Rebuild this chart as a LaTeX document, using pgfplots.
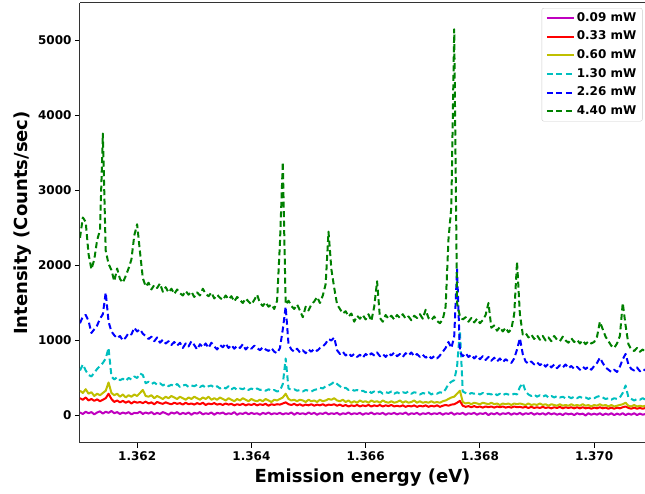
\documentclass[border=0pt]{standalone}
\usepackage{fontspec}
\setmainfont{DejaVu Sans}
\usepackage{pgfplots}
\usepackage{pgfplotstable}
\pgfplotsset{compat=1.18}

\definecolor{mplm}{rgb}{0.75,0,0.75}
\definecolor{mplr}{rgb}{1,0,0}
\definecolor{mplo}{rgb}{0.75,0.75,0}
\definecolor{mplc}{rgb}{0,0.75,0.75}
\definecolor{mplb}{rgb}{0,0,1}
\definecolor{mplg}{rgb}{0,0.5,0}

% columns: energy, then one intensity column per excitation power
\pgfplotstableread{
E P009 P033 P060 P130 P226 P440
1.36100 40 230 330 600 1230 2370
1.36105 20 210 300 680 1320 2640
1.36110 50 240 350 600 1340 2580
1.36115 30 200 290 540 1260 2150
1.36120 45 220 310 520 1100 1950
1.36125 15 195 260 570 1150 2080
1.36130 40 215 290 620 1200 2340
1.36135 55 190 270 660 1290 2470
1.36140 25 210 300 700 1350 3760
1.36145 50 230 330 760 1640 2200
1.36150 35 290 440 900 1250 2020
1.36155 60 220 300 520 1120 1940
1.36160 30 180 270 480 1070 1790
1.36165 45 200 290 510 1030 1960
1.36170 20 175 250 470 1060 1820
1.36175 40 195 280 490 1000 1770
1.36180 25 170 240 460 1040 1860
1.36185 45 190 270 500 1100 1960
1.36190 15 160 250 480 1080 2080
1.36195 35 185 280 520 1170 2400
1.36200 30 170 260 500 1120 2550
1.36205 50 180 300 560 1150 2180
1.36210 20 165 340 540 1090 1830
1.36215 40 185 260 430 1060 1720
1.36220 25 160 250 450 1020 1770
1.36225 45 175 270 420 1050 1680
1.36230 15 150 230 440 990 1740
1.36235 35 180 260 410 1040 1700
1.36240 20 165 240 430 970 1760
1.36245 45 155 220 400 1010 1650
1.36250 30 175 250 420 960 1710
1.36255 10 160 230 390 990 1640
1.36260 40 150 260 410 940 1690
1.36265 25 170 240 390 980 1620
1.36270 45 155 220 420 930 1680
1.36275 15 165 250 380 970 1630
1.36280 35 145 230 400 900 1600
1.36285 20 170 210 410 960 1660
1.36290 40 150 240 380 920 1610
1.36295 10 160 220 400 990 1650
1.36300 35 145 250 390 940 1580
1.36305 25 165 230 410 880 1640
1.36310 45 150 210 380 950 1600
1.36315 15 170 240 400 910 1690
1.36320 30 140 220 370 960 1620
1.36325 20 160 250 390 900 1590
1.36330 40 150 210 400 970 1640
1.36335 10 165 230 370 920 1560
1.36340 35 145 210 390 880 1610
1.36345 25 155 240 360 940 1570
1.36350 40 140 220 380 910 1540
1.36355 15 160 200 360 960 1600
1.36360 30 145 230 390 900 1550
1.36365 20 155 210 350 940 1590
1.36370 45 135 190 370 890 1520
1.36375 10 150 220 340 930 1580
1.36380 30 140 200 360 900 1540
1.36385 20 155 230 350 950 1500
1.36390 40 135 210 370 880 1560
1.36395 15 150 190 340 920 1520
1.36400 35 140 220 360 890 1480
1.36405 20 155 200 340 930 1540
1.36410 30 135 190 360 900 1610
1.36415 10 150 210 340 870 1500
1.36420 35 140 190 350 910 1460
1.36425 20 155 220 330 880 1510
1.36430 40 130 200 350 860 1450
1.36435 15 150 180 330 900 1480
1.36440 30 140 210 340 850 1420
1.36445 20 150 200 320 830 1530
1.36450 35 145 220 330 900 2300
1.36455 15 160 240 420 1150 3380
1.36460 30 175 290 760 1450 1480
1.36465 20 150 220 360 950 1530
1.36470 40 140 200 340 880 1460
1.36475 10 155 210 350 850 1420
1.36480 35 135 190 330 890 1480
1.36485 20 150 210 340 840 1400
1.36490 30 130 200 320 870 1310
1.36495 15 145 180 340 830 1450
1.36500 40 135 210 330 880 1400
1.36505 20 150 190 320 850 1480
1.36510 35 130 200 340 890 1520
1.36515 10 145 180 350 860 1580
1.36520 30 135 210 370 900 1500
1.36525 20 150 190 360 920 1600
1.36530 40 130 200 390 960 1750
1.36535 15 145 220 400 1020 2450
1.36540 30 140 210 420 1000 1950
1.36545 20 150 230 450 1040 1700
1.36550 35 130 200 420 870 1480
1.36555 10 145 190 390 820 1420
1.36560 30 125 210 360 850 1360
1.36565 20 140 180 370 800 1390
1.36570 40 120 200 340 830 1320
1.36575 15 135 170 350 790 1360
1.36580 30 125 190 330 820 1250
1.36585 20 140 170 340 780 1330
1.36590 35 120 200 320 810 1290
1.36595 10 135 180 330 770 1340
1.36600 30 125 190 310 820 1280
1.36605 20 140 170 330 790 1350
1.36610 40 120 200 300 830 1260
1.36615 15 135 180 320 800 1450
1.36620 30 125 190 300 840 1790
1.36625 20 140 170 320 790 1300
1.36630 35 120 200 290 820 1250
1.36635 10 135 180 310 780 1340
1.36640 30 125 170 300 830 1290
1.36645 20 140 190 320 800 1330
1.36650 35 120 170 290 840 1280
1.36655 15 130 180 310 790 1340
1.36660 30 120 200 290 820 1300
1.36665 20 135 170 310 780 1350
1.36670 40 115 190 300 830 1290
1.36675 10 130 170 320 800 1320
1.36680 30 120 180 290 840 1270
1.36685 20 135 200 310 790 1330
1.36690 35 115 170 300 820 1300
1.36695 10 130 190 280 780 1350
1.36700 30 120 170 300 810 1290
1.36705 20 135 180 290 770 1410
1.36710 35 115 170 310 800 1300
1.36715 15 130 190 280 760 1270
1.36720 30 120 170 300 790 1320
1.36725 20 135 180 290 760 1260
1.36730 35 115 170 310 800 1230
1.36735 10 130 190 300 850 1280
1.36740 30 140 200 350 900 1450
1.36745 20 130 220 420 980 2350
1.36750 40 145 240 450 900 2780
1.36755 10 150 250 470 1050 5150
1.36760 30 170 290 650 1950 1500
1.36765 20 195 330 1130 850 1320
1.36770 35 130 180 320 790 1280
1.36775 10 115 160 300 830 1310
1.36780 30 125 170 280 780 1250
1.36785 20 110 150 300 810 1300
1.36790 35 125 170 290 760 1240
1.36795 10 110 160 300 800 1290
1.36800 30 120 150 280 750 1230
1.36805 20 105 170 300 790 1270
1.36810 35 120 160 280 740 1340
1.36815 5 110 150 290 780 1500
1.36820 30 120 170 280 730 1170
1.36825 15 105 150 300 770 1200
1.36830 35 120 160 270 720 1130
1.36835 10 110 140 290 760 1180
1.36840 30 120 160 270 710 1120
1.36845 20 105 150 290 750 1170
1.36850 35 115 160 280 720 1110
1.36855 10 105 140 270 700 1150
1.36860 30 120 160 290 760 1350
1.36865 15 110 150 280 880 2050
1.36870 35 115 160 380 1030 1350
1.36875 10 105 150 430 820 1080
1.36880 30 115 140 320 720 1100
1.36885 20 100 160 280 690 1040
1.36890 35 115 140 260 720 1080
1.36895 10 100 150 280 680 1020
1.36900 30 110 140 250 710 1070
1.36905 15 100 160 270 670 1010
1.36910 30 115 140 250 700 1060
1.36915 10 100 150 270 650 1000
1.36920 35 110 130 240 690 1040
1.36925 15 95 150 260 640 990
1.36930 30 110 140 240 680 1060
1.36935 10 100 130 260 630 1010
1.36940 25 115 150 240 670 990
1.36945 5 95 130 250 640 1050
1.36950 30 110 140 230 680 1000
1.36955 15 100 130 250 630 970
1.36960 25 110 150 230 660 1030
1.36965 5 95 130 250 620 980
1.36970 30 110 140 230 650 1010
1.36975 15 95 130 250 610 960
1.36980 25 110 150 230 650 1000
1.36985 0 95 130 240 620 950
1.36990 30 105 140 220 650 990
1.36995 10 90 120 240 610 960
1.37000 25 105 140 230 660 980
1.37005 10 95 130 250 700 1050
1.37010 30 110 150 260 770 1250
1.37015 5 95 130 240 700 1150
1.37020 25 105 140 220 640 1050
1.37025 10 90 120 230 610 990
1.37030 30 105 140 210 580 930
1.37035 5 90 120 230 610 900
1.37040 25 105 130 220 580 960
1.37045 10 95 140 240 650 1060
1.37050 30 110 150 300 750 1500
1.37055 5 120 170 400 820 1200
1.37060 25 100 130 240 680 950
1.37065 10 90 120 220 620 880
1.37070 30 105 140 200 600 860
1.37075 5 90 120 220 640 900
1.37080 25 100 130 210 590 850
1.37085 10 90 120 230 620 880
1.37090 20 100 130 210 600 840
}\spectra

\begin{document}
\begin{tikzpicture}
\useasboundingbox (-80pt,-51pt) rectangle (565pt,443pt);
\begin{axis}[
  at={(0pt,0pt)}, anchor=south west,
  scale only axis, width=565pt, height=440pt,
  axis x line*=box, axis y line*=left,
  xtick pos=left, ytick pos=left,
  axis line style={black!80, line width=1pt},
  xmin=1.361, xmax=1.37089, ymin=-367, ymax=5500,
  xtick={1.362,1.364,1.366,1.368,1.370},
  ytick={0,1000,2000,3000,4000,5000},
  scaled x ticks=false,
  xticklabel style={/pgf/number format/fixed, /pgf/number format/precision=3, /pgf/number format/fixed zerofill},
  yticklabel style={/pgf/number format/1000 sep={}},
  /pgf/number format/assume math mode=true,
  tick align=outside, major tick length=5pt,
  tick style={black, line width=0.9pt},
  ticklabel style={font=\fontsize{12}{14}\selectfont\bfseries},
  xlabel={Emission energy (eV)},
  ylabel={Intensity (Counts/sec)},
  label style={font=\fontsize{18}{21}\selectfont\bfseries},
  xlabel style={at={(axis description cs:0.5,0)}, anchor=base, yshift=-40pt},
  ylabel style={at={(axis description cs:-0.0938,0.5)}, anchor=base},
  every axis plot/.append style={line width=2pt, line join=round},
  legend style={at={(rel axis cs:0.817,0.9886)}, anchor=north west,
    draw=black!20, rounded corners=2pt, fill=white, fill opacity=0.8, text opacity=1,
    font=\fontsize{12}{14}\selectfont\bfseries,
    inner xsep=4pt, inner ysep=2pt, row sep=2.6pt,
    nodes={inner sep=2pt, text height=9pt, text depth=3pt}},
  legend cell align=left,
  legend image code/.code={\draw[#1] (0pt,0pt) -- (27pt,0pt);},
]
\addplot[color=mplm, solid] table[x=E, y=P009] {\spectra};
\addplot[color=mplr, solid] table[x=E, y=P033] {\spectra};
\addplot[color=mplo, solid] table[x=E, y=P060] {\spectra};
\addplot[color=mplc, dash pattern=on 6pt off 3.5pt] table[x=E, y=P130] {\spectra};
\addplot[color=mplb, dash pattern=on 6pt off 3.5pt] table[x=E, y=P226] {\spectra};
\addplot[color=mplg, dash pattern=on 6pt off 3.5pt] table[x=E, y=P440] {\spectra};
\legend{0.09 mW, 0.33 mW, 0.60 mW, 1.30 mW, 2.26 mW, 4.40 mW}
\end{axis}
\end{tikzpicture}
\end{document}
